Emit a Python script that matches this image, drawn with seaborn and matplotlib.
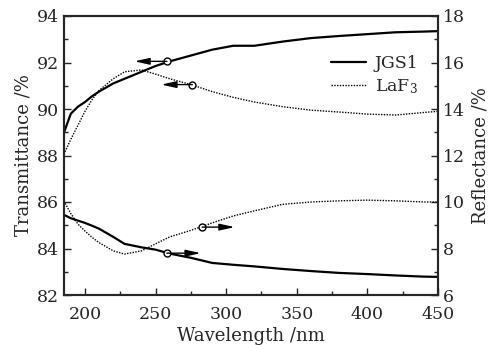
import numpy as np
import pandas as pd
import matplotlib
matplotlib.use('Agg')
import matplotlib.pyplot as plt
import seaborn as sns
from matplotlib.ticker import MultipleLocator

# values
wl = [185, 190, 195, 200, 205, 210, 220, 228, 240, 250, 260, 275, 290, 305,
      320, 340, 360, 380, 400, 420, 440, 450]
jgs1_t = [88.97, 89.8, 90.1, 90.3, 90.55, 90.75, 91.1, 91.3, 91.6, 91.85, 92.05,
          92.3, 92.55, 92.72, 92.72, 92.9, 93.05, 93.14, 93.22, 93.3, 93.33, 93.35]
laf3_t = [88.05, 88.7, 89.3, 89.9, 90.4, 90.8, 91.3, 91.6, 91.68, 91.5, 91.3,
          91.05, 90.75, 90.5, 90.3, 90.1, 89.95, 89.87, 89.78, 89.74, 89.85, 89.9]
jgs1_r = [9.45, 9.3, 9.2, 9.1, 8.98, 8.85, 8.5, 8.2, 8.05, 7.95, 7.78,
          7.6, 7.38, 7.3, 7.23, 7.12, 7.03, 6.95, 6.9, 6.84, 6.79, 6.78]
laf3_r = [10.05, 9.5, 9.05, 8.75, 8.48, 8.25, 7.9, 7.76, 7.9, 8.2, 8.5,
          8.78, 9.1, 9.4, 9.62, 9.9, 10.0, 10.05, 10.08, 10.05, 10.0, 10.0]

# arrow markers: (circle x, circle y, arrow end x)
arrows_left = [(258, 92.05, 235), (276, 91.05, 254)]
arrows_right = [(258, 7.8, 282), (283, 8.92, 306)]

sns.set_style('ticks')
plt.rcParams['font.family'] = ['DejaVu Serif']
plt.rcParams['mathtext.fontset'] = 'dejavuserif'

fig = plt.figure(figsize=(4.92, 3.45), dpi=100)
ax = fig.add_axes([63.8 / 492, 50 / 345, 374.2 / 492, 279 / 345])
ax2 = ax.twinx()

sns.lineplot(x=wl, y=jgs1_t, ax=ax, color='black', lw=1.6, label='JGS1')
sns.lineplot(x=wl, y=laf3_t, ax=ax, color='black', lw=1.0, ls=(0, (1, 1)), label='LaF$_3$')
sns.lineplot(x=wl, y=jgs1_r, ax=ax2, color='black', lw=1.6)
sns.lineplot(x=wl, y=laf3_r, ax=ax2, color='black', lw=1.0, ls=(0, (1, 1)))

for a, arr in ((ax, arrows_left), (ax2, arrows_right)):
    for cx, cy, ex in arr:
        a.annotate('', xy=(ex, cy), xytext=(cx, cy),
                   arrowprops=dict(arrowstyle='-|>,head_length=0.9,head_width=0.2',
                                   color='black', lw=1.0, shrinkA=0, shrinkB=0))
        a.plot(cx, cy, 'o', mfc='white', mec='black', ms=5, mew=1.0)

ax.set_xlim(185, 450)
ax.set_ylim(82, 94)
ax2.set_ylim(6, 18)
ax.xaxis.set_major_locator(MultipleLocator(50))
ax.xaxis.set_minor_locator(MultipleLocator(25))
ax.yaxis.set_major_locator(MultipleLocator(2))
ax.yaxis.set_minor_locator(MultipleLocator(1))
ax2.yaxis.set_major_locator(MultipleLocator(2))
ax2.yaxis.set_minor_locator(MultipleLocator(1))

for a in (ax, ax2):
    a.tick_params(which='both', direction='in', labelsize=12.5, width=1.0, top=False)
    a.tick_params(which='major', length=5)
    a.tick_params(which='minor', length=3)
    for s in a.spines.values():
        s.set_linewidth(1.5)
        s.set_visible(True)
ax.tick_params(axis='y', right=False)
ax.tick_params(axis='x', pad=8)

ax.set_xlabel('Wavelength /nm', fontsize=13, labelpad=3)
ax.set_ylabel('Transmittance /%', fontsize=13, labelpad=3)
ax2.set_ylabel('Reflectance /%', fontsize=13, labelpad=5)

leg = ax.legend(loc='upper right', bbox_to_anchor=(0.99, 0.915), frameon=False,
                fontsize=12.5, handlelength=2.0, handletextpad=0.5, labelspacing=0.3)

fig.savefig('out.png', dpi=100)
